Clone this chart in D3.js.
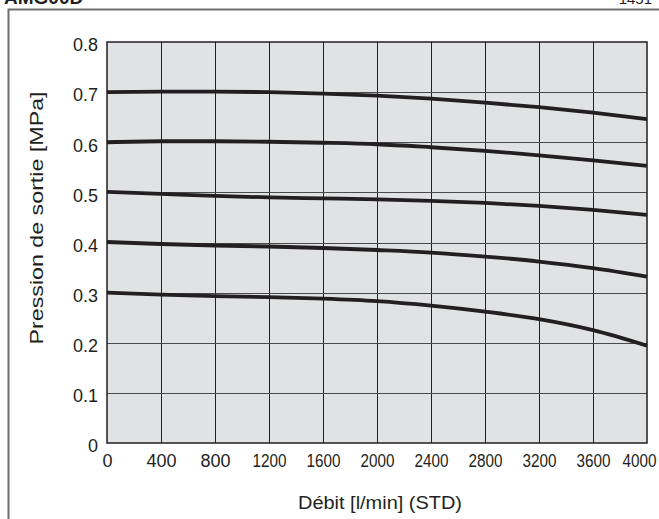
<!DOCTYPE html>
<html>
<head>
<meta charset="utf-8">
<script src="https://cdn.jsdelivr.net/npm/d3@7"></script>
<style>
  html, body { margin: 0; padding: 0; background: #fff; }
  svg { display: block; font-family: "Liberation Sans", Arial, Helvetica, sans-serif; }
</style>
</head>
<body>
<svg id="chart" width="659" height="519"></svg>
<script>
// Flow rate (l/min, STD) at which each outlet pressure was measured
const flowPoints = [0, 400, 800, 1200, 1600, 2000, 2400, 2800, 3200, 3600, 4000];

// Outlet pressure (MPa) for each set pressure curve
const curve07 = [0.700, 0.701, 0.701, 0.700, 0.697, 0.693, 0.687, 0.679, 0.670, 0.659, 0.646];
const curve06 = [0.600, 0.602, 0.602, 0.601, 0.599, 0.596, 0.590, 0.583, 0.574, 0.564, 0.553];
const curve05 = [0.501, 0.497, 0.493, 0.490, 0.488, 0.486, 0.483, 0.479, 0.473, 0.465, 0.455];
const curve04 = [0.401, 0.397, 0.394, 0.392, 0.389, 0.385, 0.380, 0.372, 0.362, 0.349, 0.332];
const curve03 = [0.300, 0.296, 0.293, 0.291, 0.288, 0.283, 0.274, 0.262, 0.247, 0.225, 0.194];
const curves = [curve07, curve06, curve05, curve04, curve03];

// Axis ticks
const xTicks = [0, 400, 800, 1200, 1600, 2000, 2400, 2800, 3200, 3600, 4000];
const yTicks = [0, 0.1, 0.2, 0.3, 0.4, 0.5, 0.6, 0.7, 0.8];

const xTitle = "Débit [l/min] (STD)";
const yTitle = "Pression de sortie [MPa]";

const svg = d3.select("#chart");
const plot = { left: 107, right: 647, top: 42, bottom: 443 };

const x = d3.scaleLinear().domain([0, 4000]).range([plot.left, plot.right]);
const y = d3.scaleLinear().domain([0, 0.8]).range([plot.bottom, plot.top]);

// Page header (runs off the top edge) and frame
svg.append("text").attr("x", 4).attr("y", 4)
  .attr("font-size", 19).attr("font-weight", "bold").attr("fill", "#231f20")
  .text("AMG00D");
svg.append("text").attr("x", 652).attr("y", 4).attr("text-anchor", "end")
  .attr("font-size", 15).attr("fill", "#231f20")
  .text("1451");
svg.append("path")
  .attr("d", "M8.5,519 V9.5 H659")
  .attr("fill", "none").attr("stroke", "#6d6e70").attr("stroke-width", 2);

// Plot background
svg.append("rect")
  .attr("x", plot.left).attr("y", plot.top)
  .attr("width", plot.right - plot.left).attr("height", plot.bottom - plot.top)
  .attr("fill", "#e1e2e4");

// Grid lines
svg.append("g").selectAll("line").data(xTicks.slice(1, -1)).join("line")
  .attr("x1", d => Math.round(x(d)) + 0.5).attr("x2", d => Math.round(x(d)) + 0.5)
  .attr("y1", plot.top).attr("y2", plot.bottom)
  .attr("stroke", "#231f20").attr("stroke-width", 1);
svg.append("g").selectAll("line").data(yTicks.slice(1, -1)).join("line")
  .attr("y1", d => Math.round(y(d)) + 0.5).attr("y2", d => Math.round(y(d)) + 0.5)
  .attr("x1", plot.left).attr("x2", plot.right)
  .attr("stroke", "#4a4a4c").attr("stroke-width", 1);

// Plot border
svg.append("rect")
  .attr("x", plot.left).attr("y", plot.top)
  .attr("width", plot.right - plot.left).attr("height", plot.bottom - plot.top)
  .attr("fill", "none").attr("stroke", "#231f20").attr("stroke-width", 1.5);

// Pressure curves
const line = d3.line()
  .x((d, i) => x(flowPoints[i]))
  .y(d => y(d))
  .curve(d3.curveMonotoneX);
svg.append("g").selectAll("path").data(curves).join("path")
  .attr("d", d => line(d))
  .attr("fill", "none").attr("stroke", "#231f20")
  .attr("stroke-width", 3.8).attr("stroke-linecap", "butt");

// Axes (tick labels only)
const xAxis = d3.axisBottom(x).tickValues(xTicks).tickSize(0).tickPadding(11)
  .tickFormat(d3.format("d"));
const gx = svg.append("g").attr("transform", `translate(0,${plot.bottom})`).call(xAxis);
gx.select(".domain").remove();
gx.selectAll("text").attr("font-size", 18).attr("fill", "#231f20")
  .attr("font-family", "Liberation Sans, Arial, sans-serif")
  .each(function (d) {
    if (d >= 1000) d3.select(this).attr("textLength", 34).attr("lengthAdjust", "spacingAndGlyphs");
  });
// the last label sits a little inside the right edge
gx.selectAll(".tick").filter(d => d === 4000).select("text").attr("x", -8);

const yAxis = d3.axisLeft(y).tickValues(yTicks).tickSize(0).tickPadding(9)
  .tickFormat(d => d === 0 ? "0" : d3.format(".1f")(d));
const gy = svg.append("g").attr("transform", `translate(${plot.left},0)`).call(yAxis);
gy.select(".domain").remove();
gy.selectAll("text").attr("font-size", 18).attr("fill", "#231f20")
  .attr("font-family", "Liberation Sans, Arial, sans-serif")
  .attr("y", 3);

// Axis titles
svg.append("text")
  .attr("x", 380).attr("y", 509).attr("text-anchor", "middle")
  .attr("font-size", 18).attr("fill", "#231f20")
  .attr("textLength", 164).attr("lengthAdjust", "spacingAndGlyphs")
  .text(xTitle);
svg.append("text")
  .attr("transform", "translate(43,218) rotate(-90)")
  .attr("text-anchor", "middle")
  .attr("font-size", 18).attr("fill", "#231f20")
  .attr("textLength", 253).attr("lengthAdjust", "spacingAndGlyphs")
  .text(yTitle);
</script>
</body>
</html>
